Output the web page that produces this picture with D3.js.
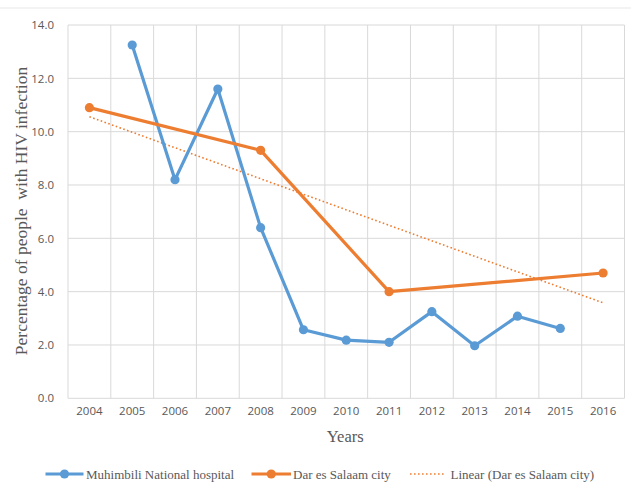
<!DOCTYPE html>
<html>
<head>
<meta charset="utf-8">
<script src="https://cdn.jsdelivr.net/npm/d3@7"></script>
<style>
  body { margin: 0; background: #fff; }
  svg { display: block; }
</style>
</head>
<body>
<svg id="chart" width="631" height="487"></svg>
<script>
'use strict';

let years = ['2004', '2005', '2006', '2007', '2008', '2009', '2010',
    '2011', '2012', '2013', '2014', '2015', '2016'];
// Muhimbili National hospital (no value for 2004 and 2016)
let muhimbiliYears = ['2005', '2006', '2007', '2008', '2009', '2010',
    '2011', '2012', '2013', '2014', '2015'];
let muhimbiliValues = [13.25, 8.2, 11.6, 6.4, 2.57, 2.18, 2.1, 3.25, 1.97, 3.08, 2.62];
// Dar es Salaam city
let darYears = ['2004', '2008', '2011', '2016'];
let darValues = [10.9, 9.3, 4.0, 4.7];
// Linear trend of Dar es Salaam city, ends
let trendYears = ['2004', '2016'];
let trendValues = [10.56, 3.58];
let yTicks = [0, 2, 4, 6, 8, 10, 12, 14];

let blue = '#5b9bd5';
let orange = '#ed7d31';
let grid = '#d9d9d9';
let textColor = '#595959';

let svg = d3.select('#chart');

let plotLeft = 68, plotRight = 624.5, plotTop = 25, plotBottom = 398.3;

let x = d3.scaleBand()
    .domain(years)
    .range([plotLeft, plotRight]);
let y = d3.scaleLinear()
    .domain([0, 14])
    .range([plotBottom, plotTop]);

// faint border line at the top of the chart
svg.append('line')
    .attr('x1', 0).attr('x2', 631)
    .attr('y1', 8).attr('y2', 8)
    .attr('stroke', '#e8e8e8')
    .attr('stroke-width', 1.2);

// horizontal gridlines
svg.append('g')
    .selectAll('line')
    .data(yTicks)
    .join('line')
    .attr('x1', plotLeft).attr('x2', plotRight)
    .attr('y1', d => y(d)).attr('y2', d => y(d))
    .attr('stroke', grid)
    .attr('stroke-width', 1);

// vertical gridlines between categories
let edges = years.map(d => x(d)).concat([plotRight]);
svg.append('g')
    .selectAll('line')
    .data(edges)
    .join('line')
    .attr('x1', d => d).attr('x2', d => d)
    .attr('y1', plotTop).attr('y2', plotBottom)
    .attr('stroke', grid)
    .attr('stroke-width', 1);

// y tick labels
let yAxis = svg.append('g')
    .attr('transform', 'translate(' + (plotLeft - 11) + ',0)')
    .call(d3.axisLeft(y).tickValues(yTicks).tickFormat(d3.format('.1f')).tickSize(0));
yAxis.select('.domain').remove();
yAxis.selectAll('text')
    .attr('fill', textColor)
    .style('font-family', '"Open Sans", sans-serif')
    .style('font-size', '11.5px');

// x tick labels
let xAxis = svg.append('g')
    .attr('transform', 'translate(0,' + plotBottom + ')')
    .call(d3.axisBottom(x).tickSize(0).tickPadding(9));
xAxis.select('.domain').remove();
xAxis.selectAll('text')
    .attr('fill', textColor)
    .style('font-family', '"Open Sans", sans-serif')
    .style('font-size', '11.5px');

// axis titles
svg.append('text')
    .attr('x', (plotLeft + plotRight) / 2 - 1)
    .attr('y', 442)
    .attr('text-anchor', 'middle')
    .attr('fill', textColor)
    .style('font-family', '"Liberation Serif", serif')
    .style('font-size', '16.5px')
    .text('Years');

svg.append('text')
    .attr('transform', 'translate(27,211) rotate(-90)')
    .attr('text-anchor', 'middle')
    .attr('fill', textColor)
    .style('font-family', '"Liberation Serif", serif')
    .style('font-size', '17.5px')
    .style('white-space', 'pre')
    .text('Percentage of people  with HIV infection');

let cx = d => x(d) + x.bandwidth() / 2;
let line = d3.line()
    .x(d => cx(d[0]))
    .y(d => y(d[1]));

// trend line
svg.append('path')
    .datum(d3.zip(trendYears, trendValues))
    .attr('d', line)
    .attr('fill', 'none')
    .attr('stroke', orange)
    .attr('stroke-width', 1.6)
    .attr('stroke-dasharray', '1.6,2.4');

let drawSeries = function(cats, vals, color) {
    let data = d3.zip(cats, vals);
    svg.append('path')
        .datum(data)
        .attr('d', line)
        .attr('fill', 'none')
        .attr('stroke', color)
        .attr('stroke-width', 3.2)
        .attr('stroke-linejoin', 'round');
    svg.append('g')
        .selectAll('circle')
        .data(data)
        .join('circle')
        .attr('cx', d => cx(d[0]))
        .attr('cy', d => y(d[1]))
        .attr('r', 4.6)
        .attr('fill', color);
};

drawSeries(muhimbiliYears, muhimbiliValues, blue);
drawSeries(darYears, darValues, orange);

// legend
let legendY = 474;
let legend = svg.append('g')
    .style('font-family', '"Liberation Serif", serif')
    .style('font-size', '13px');

let items = [
    {label: 'Muhimbili National hospital', x1: 45.5, x2: 83.5, text: 86, color: blue, dot: true},
    {label: 'Dar es Salaam city', x1: 251.5, x2: 291, text: 293, color: orange, dot: true},
    {label: 'Linear (Dar es Salaam city)', x1: 410, x2: 445, text: 450.5, color: orange, dot: false}
];

items.forEach(function(it) {
    legend.append('line')
        .attr('x1', it.x1).attr('x2', it.x2)
        .attr('y1', legendY).attr('y2', legendY)
        .attr('stroke', it.color)
        .attr('stroke-width', it.dot ? 3.2 : 1.6)
        .attr('stroke-dasharray', it.dot ? null : '1.6,2.4');
    if (it.dot) {
        legend.append('circle')
            .attr('cx', (it.x1 + it.x2) / 2)
            .attr('cy', legendY)
            .attr('r', 4.6)
            .attr('fill', it.color);
    }
    legend.append('text')
        .attr('x', it.text)
        .attr('y', legendY)
        .attr('dy', '0.35em')
        .attr('fill', textColor)
        .text(it.label);
});
</script>
</body>
</html>
